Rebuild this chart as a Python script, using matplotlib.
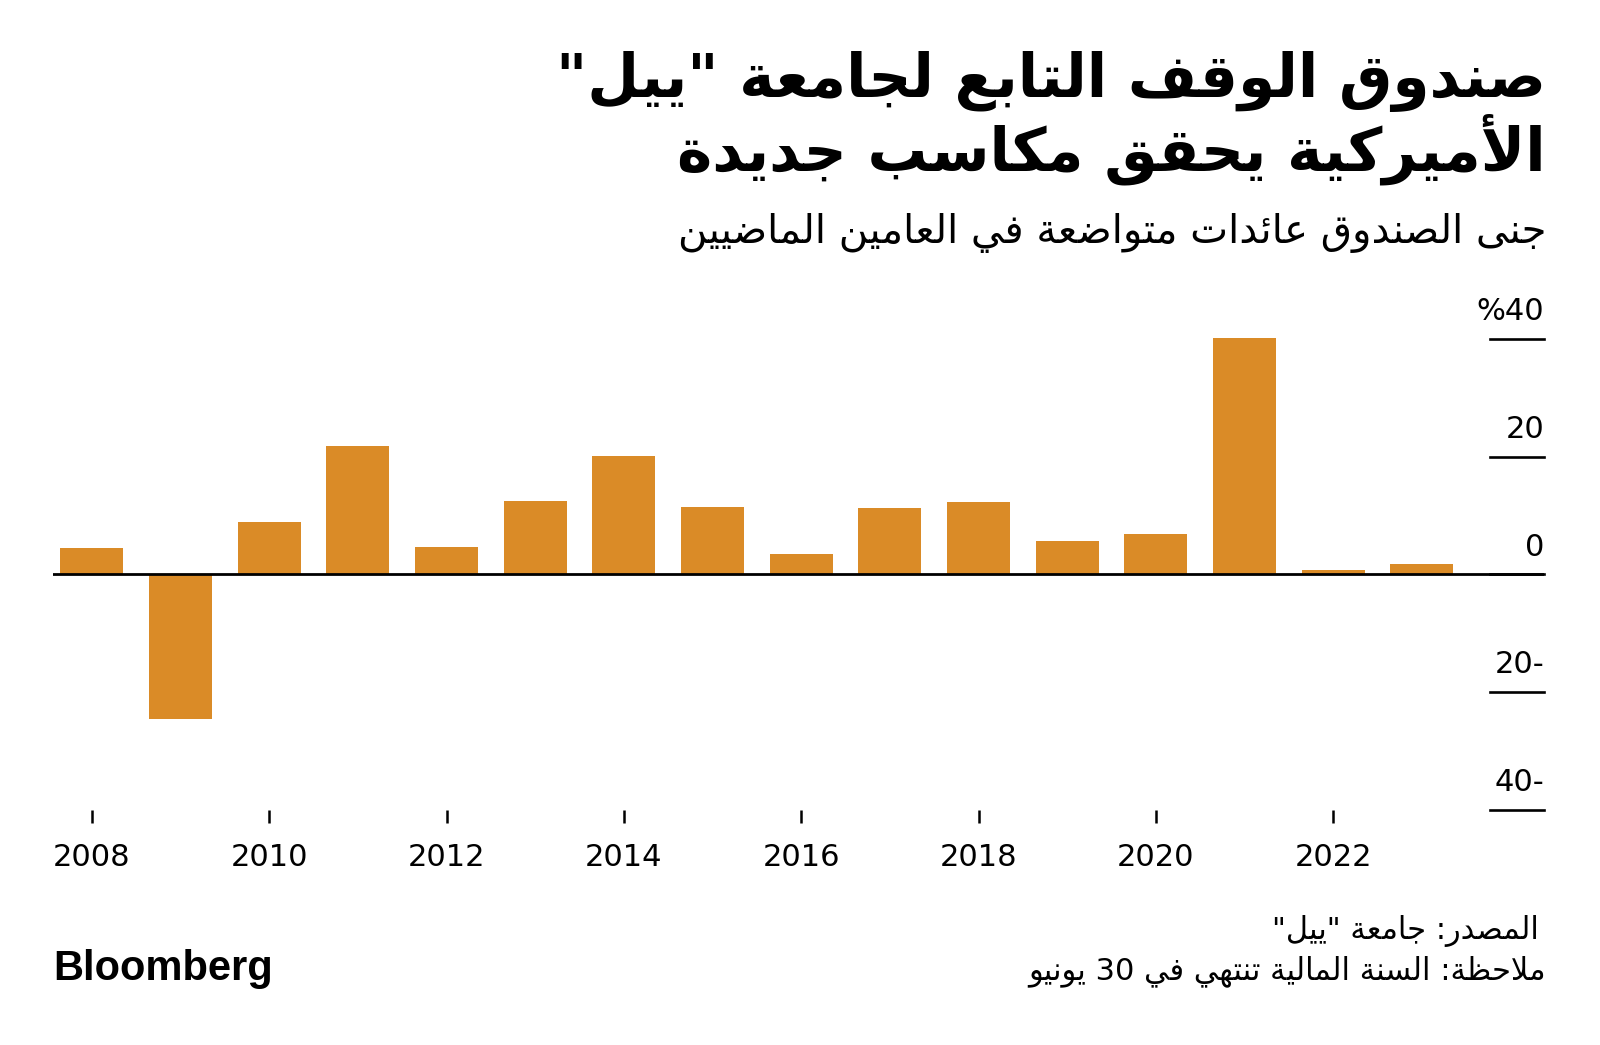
#!/usr/bin/env python

import re
import matplotlib
matplotlib.use("Agg")
import matplotlib.pyplot as plt
import matplotlib.transforms as mtransforms

# Yale endowment annual returns (fiscal years ending 30 June), percent
years = [2008, 2009, 2010, 2011, 2012, 2013, 2014, 2015,
         2016, 2017, 2018, 2019, 2020, 2021, 2022, 2023]
returns = [4.5, -24.6, 8.9, 21.9, 4.7, 12.5, 20.2, 11.5,
           3.4, 11.3, 12.3, 5.7, 6.8, 40.2, 0.8, 1.8]
xticks = [2008, 2010, 2012, 2014, 2016, 2018, 2020, 2022]
yticks = [40, 20, 0, -20, -40]

title_1 = 'صندوق الوقف التابع لجامعة "ييل"'
title_2 = "الأميركية يحقق مكاسب جديدة"
subtitle = "جنى الصندوق عائدات متواضعة في العامين الماضيين"
source = 'المصدر: جامعة "ييل"'
note = "ملاحظة: السنة المالية تنتهي في 30 يونيو"

ORANGE = "#DA8B27"
AR_FONT = ["DejaVu Sans"]
NUM_FONT = ["DejaVu Sans"]
LAT_FONT = ["Liberation Sans", "DejaVu Sans"]

# presentation form base code point, number of forms (iso, fin, ini, med)
AR = {
  "\u0621": (0xFE80, 1), "\u0622": (0xFE81, 2), "\u0623": (0xFE83, 2),
  "\u0624": (0xFE85, 2), "\u0625": (0xFE87, 2), "\u0626": (0xFE89, 4),
  "\u0627": (0xFE8D, 2), "\u0628": (0xFE8F, 4), "\u0629": (0xFE93, 2),
  "\u062A": (0xFE95, 4), "\u062B": (0xFE99, 4), "\u062C": (0xFE9D, 4),
  "\u062D": (0xFEA1, 4), "\u062E": (0xFEA5, 4), "\u062F": (0xFEA9, 2),
  "\u0630": (0xFEAB, 2), "\u0631": (0xFEAD, 2), "\u0632": (0xFEAF, 2),
  "\u0633": (0xFEB1, 4), "\u0634": (0xFEB5, 4), "\u0635": (0xFEB9, 4),
  "\u0636": (0xFEBD, 4), "\u0637": (0xFEC1, 4), "\u0638": (0xFEC5, 4),
  "\u0639": (0xFEC9, 4), "\u063A": (0xFECD, 4), "\u0641": (0xFED1, 4),
  "\u0642": (0xFED5, 4), "\u0643": (0xFED9, 4), "\u0644": (0xFEDD, 4),
  "\u0645": (0xFEE1, 4), "\u0646": (0xFEE5, 4), "\u0647": (0xFEE9, 4),
  "\u0648": (0xFEED, 2), "\u0649": (0xFEEF, 2), "\u064A": (0xFEF1, 4),
}
LAM_ALEF = {"\u0622": 0xFEF5, "\u0623": 0xFEF7, "\u0625": 0xFEF9, "\u0627": 0xFEFB}

def shape(s):
  # join letters into presentation forms
  units = []
  i = 0
  while i < len(s):
    c = s[i]
    if c == "\u0644" and i + 1 < len(s) and s[i + 1] in LAM_ALEF:
      units.append((LAM_ALEF[s[i + 1]], 2))
      i += 2
      continue
    units.append(AR.get(c, c))
    i += 1
  out = []
  for k, u in enumerate(units):
    if isinstance(u, str):
      out.append(u)
      continue
    base, n = u
    prev = units[k - 1] if k > 0 else None
    nxt = units[k + 1] if k + 1 < len(units) else None
    jp = isinstance(prev, tuple) and prev[1] == 4
    jn = n == 4 and isinstance(nxt, tuple)
    if n == 1:
      form = 0
    elif jp and jn:
      form = 3
    elif jp:
      form = 1
    elif jn:
      form = 2
    else:
      form = 0
    out.append(chr(base + form))
  return "".join(out)

def rtl(s):
  # visual order, keeping digit runs left to right
  toks = re.findall(r"\d+|\D", shape(s))
  return "".join(toks[::-1])

fig = plt.figure(figsize=(16, 10.45), dpi=100)
fig.patch.set_facecolor("white")
ax = fig.add_axes([0.0331, 0.2249, 0.932, 0.4507])

ax.bar(years, returns, width=0.71, color=ORANGE, zorder=2, clip_on=False)
ax.axhline(0, color="black", lw=2.0, zorder=3)

ax.set_xlim(2007.56, 2024.38)
ax.set_ylim(-40, 40)
for sp in ax.spines.values():
  sp.set_visible(False)
ax.set_yticks([])
ax.set_xticks(xticks)
ax.set_xticklabels([str(x) for x in xticks], family=NUM_FONT, fontsize=22)
ax.tick_params(axis="x", length=9.5, width=1.8, direction="out", pad=14, color="black")

# right-hand value scale: short rule with label sitting above it
trans = mtransforms.blended_transform_factory(ax.transAxes, ax.transData)
lab_trans = mtransforms.offset_copy(trans, fig=fig, x=0, y=13.5, units="points")
for v in yticks:
  ax.plot([0.9637, 1.0], [v, v], color="black", lw=1.9, transform=trans, clip_on=False, zorder=3)
  lbl = str(abs(v)) + ("-" if v < 0 else "")
  if v == max(yticks):
    lbl = "%" + lbl
  ax.text(1.0, v, lbl, transform=lab_trans, ha="right", va="baseline",
          family=NUM_FONT, fontsize=22)

W, H = 1600.0, 1045.0
fig.text(1546 / W, 1 - 97 / H, rtl(title_1), ha="right", va="baseline",
         family=AR_FONT, fontsize=43, fontweight="bold")
fig.text(1546 / W, 1 - 170 / H, rtl(title_2), ha="right", va="baseline",
         family=AR_FONT, fontsize=43, fontweight="bold")
fig.text(1546 / W, 1 - 243 / H, rtl(subtitle), ha="right", va="baseline",
         family=AR_FONT, fontsize=29)
fig.text(1539 / W, 1 - 939 / H, rtl(source), ha="right", va="baseline",
         family=AR_FONT, fontsize=22)
fig.text(1546 / W, 1 - 979 / H, rtl(note), ha="right", va="baseline",
         family=AR_FONT, fontsize=22)
fig.text(53 / W, 1 - 980 / H, "Bloomberg", ha="left", va="baseline",
         family=LAT_FONT, fontsize=30, fontweight="bold")

fig.savefig("out.png", dpi=100, facecolor="white")
